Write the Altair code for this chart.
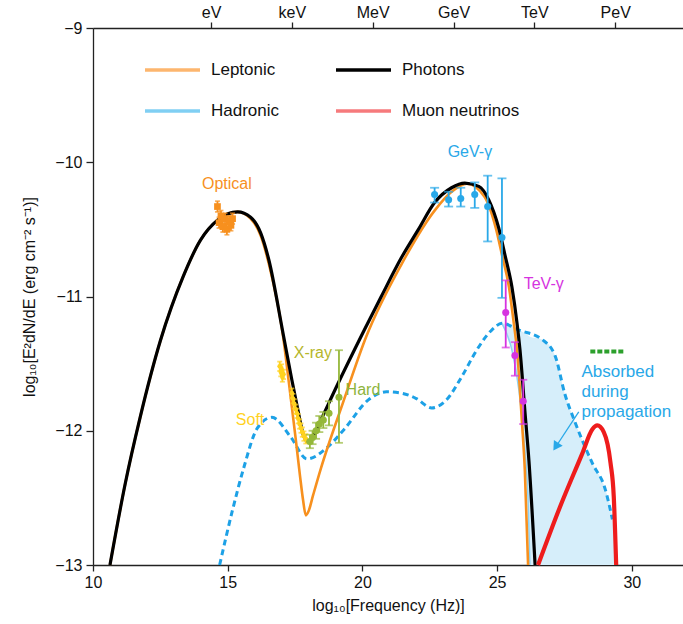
import altair as alt
import pandas as pd

FONT = "Liberation Sans"

# ---- model spectra: log10 frequency (Hz) vs log10 E^2 dN/dE (erg cm^-2 s^-1) ----
photon_x = [10.63, 11.19, 11.75, 12.50, 13.35, 13.99, 14.63, 15.37,
            15.85, 16.23, 16.53, 17.05, 17.38, 17.61, 17.79, 17.96,
            18.17, 18.46, 19.02, 20.07, 20.70, 21.45, 22.08, 22.68,
            23.31, 23.80, 24.32, 24.69, 25.06, 25.29, 25.55, 25.74,
            25.85, 26.03, 26.18, 26.41]
photon_y = [-13.0, -12.40, -11.90, -11.33, -10.85, -10.58, -10.43, -10.37,
            -10.41, -10.53, -10.73, -11.27, -11.62, -11.85, -12.02, -12.08,
            -12.04, -11.92, -11.68, -11.25, -11.00, -10.71, -10.50, -10.30,
            -10.19, -10.155, -10.18, -10.28, -10.49, -10.69, -10.93, -11.20,
            -11.40, -11.85, -12.22, -13.0]

lep_x = [10.63, 11.19, 11.75, 12.50, 13.35, 13.99, 14.63, 15.37,
         15.85, 16.23, 16.53, 17.05, 17.27, 17.53, 17.68, 17.80,
         17.90, 18.00, 18.17, 18.46, 19.28, 20.14, 21.45, 22.68,
         23.31, 23.88, 24.54, 24.95, 25.18, 25.44, 25.62, 25.74,
         25.92, 26.03, 26.15]
lep_y = [-13.0, -12.40, -11.90, -11.33, -10.85, -10.58, -10.43, -10.37,
         -10.42, -10.55, -10.76, -11.29, -11.64, -12.07, -12.33, -12.52,
         -12.63, -12.60, -12.48, -12.28, -11.79, -11.30, -10.76, -10.36,
         -10.22, -10.16, -10.26, -10.49, -10.69, -10.93, -11.20, -11.40,
         -11.93, -12.30, -13.0]

had_x = [14.70, 15.18, 15.59, 16.10, 16.64, 17.35, 17.94, 18.72, 19.32,
         20.22, 20.89, 21.45, 22.00, 22.57, 23.12, 23.68, 24.24, 24.80,
         25.18, 25.81, 26.67, 27.15, 27.52, 27.90, 28.53, 29.02, 29.28]
had_y = [-13.0, -12.59, -12.28, -11.98, -11.90, -12.05, -12.21, -12.12, -11.99,
         -11.77, -11.71, -11.72, -11.76, -11.83, -11.77, -11.60, -11.40, -11.25,
         -11.20, -11.25, -11.32, -11.44, -11.73, -11.94, -12.24, -12.44, -12.66]

nu_x = [26.52, 27.33, 28.16, 28.53, 28.72, 28.96, 29.21, 29.33, 29.42]
nu_y = [-13.0, -12.57, -12.17, -11.99, -11.96, -12.01, -12.24, -12.49, -13.0]

# hadronic emission lost on the way (shaded band)
abs_x = [25.18, 25.55, 25.81, 26.00, 26.15, 26.22, 26.67, 27.15, 27.52,
         27.90, 28.53, 29.02, 29.28, 29.40]
abs_top = [-11.20, -11.22, -11.25, -11.27, -11.29, -11.30, -11.32, -11.44, -11.73,
           -11.94, -12.24, -12.44, -12.66, -13.0]
abs_bottom = [-11.20, -11.40, -11.70, -12.07, -12.52, -13.0, -13.0, -13.0, -13.0,
              -13.0, -13.0, -13.0, -13.0, -13.0]

# neutrino limit segment
lim_x = [28.46, 29.73]
lim_y = [-11.41, -11.41]

# ---- observations ----
opt_x = [14.62, 14.68, 14.75, 14.82, 14.90, 14.97, 15.05, 15.12, 15.18]
opt_y = [-10.33, -10.45, -10.40, -10.48, -10.42, -10.50, -10.44, -10.47, -10.42]

soft_x = [16.93, 16.97, 17.00, 17.03, 17.07, 17.38, 17.42, 17.47, 17.52,
          17.57, 17.62, 17.67, 17.72, 17.77, 17.83, 17.90]
soft_y = [-11.52, -11.56, -11.54, -11.60, -11.58, -11.72, -11.76, -11.80, -11.84,
          -11.87, -11.91, -11.95, -11.98, -12.01, -12.04, -12.06]

hard_x = [18.05, 18.15, 18.28, 18.40, 18.55, 18.76, 19.13]
hard_y = [-12.08, -12.05, -12.00, -11.95, -11.92, -11.87, -11.75]
hard_lo = [-12.13, -12.10, -12.06, -12.01, -11.98, -11.96, -12.09]
hard_hi = [-12.03, -12.00, -11.94, -11.89, -11.86, -11.78, -11.40]

gev_x = [22.68, 23.20, 23.65, 24.17, 24.65, 25.18]
gev_y = [-10.24, -10.28, -10.27, -10.24, -10.33, -10.56]
gev_lo = [-10.30, -10.33, -10.33, -10.34, -10.59, -11.01]
gev_hi = [-10.19, -10.22, -10.19, -10.15, -10.10, -10.12]

tev_x = [25.32, 25.66, 25.97]
tev_y = [-11.12, -11.44, -11.78]
tev_lo = [-11.38, -11.59, -11.95]
tev_hi = [-10.88, -11.34, -11.62]

# ---- annotations ----
note_text = ["Optical", "Soft", "X-ray", "Hard", "GeV-\u03b3", "TeV-\u03b3"]
note_x = [14.97, 15.83, 18.16, 20.02, 23.99, 26.73]
note_y = [-10.16, -11.92, -11.42, -11.70, -9.92, -10.91]
note_color = ["#f7901e", "#ffd21f", "#b5b62a", "#8db43c", "#29a8e8", "#d633e0"]

absorb_text = ["Absorbed", "during", "propagation"]
absorb_x = [28.13, 28.13, 28.13]
absorb_y = [-11.56, -11.71, -11.86]

arrow_x = [28.03, 27.21]
arrow_y = [-11.86, -12.11]

# energy scale along the top
top_ticks = [14.383, 17.383, 20.383, 23.383, 26.383, 29.383]
top_labels = ["eV", "keV", "MeV", "GeV", "TeV", "PeV"]

# legend laid out column by column
legend_names = ["Leptonic", "Hadronic", "Photons", "Muon neutrinos"]
legend_colors = ["#fdb66e", "#80cff3", "#000000", "#f67a7c"]

# ---- scales and axes ----
xscale = alt.Scale(domain=[10, 31.9], nice=False, zero=False)
yscale = alt.Scale(domain=[-13, -9], nice=False, zero=False)

axis_style = dict(grid=False, domainColor="#222", tickColor="#222", labelColor="#111",
                  titleColor="#111", labelFont=FONT, titleFont=FONT, labelFontSize=16,
                  titleFontSize=16, titleFontWeight="normal", domainWidth=1.3, tickWidth=1.3)

x_bottom = alt.Axis(orient="bottom", values=[10, 15, 20, 25, 30], format="d",
                    title="log\u2081\u2080[Frequency (Hz)]", tickSize=6, labelPadding=3,
                    titlePadding=7, labelFlush=False, **axis_style)
top_expr = "[" + ",".join("'%s'" % s for s in top_labels) + "][round((datum.value - %s) / 3)]" % top_ticks[0]
x_top = alt.Axis(orient="top", values=top_ticks, labelExpr=top_expr, title=None,
                 tickSize=6, labelPadding=2, labelFlush=False, **axis_style)
y_left = alt.Axis(orient="left", values=[-13, -12, -11, -10, -9],
                  labelExpr="replace(format(datum.value, 'd'), '-', '\u2212')",
                  title="log\u2081\u2080[E\u00b2dN/dE (erg cm\u207b\u00b2 s\u207b\u00b9)]",
                  tickSize=7, labelPadding=4, titlePadding=17, **axis_style)


def X(field="x", axis=None):
    return alt.X(f"{field}:Q", scale=xscale, axis=axis)


def Y(field="y", axis=None):
    return alt.Y(f"{field}:Q", scale=yscale, axis=axis)


def frame(xs, ys):
    return pd.DataFrame({"x": xs, "y": ys})


# shaded absorbed band
band_df = pd.DataFrame({"x": abs_x, "top": abs_top, "bottom": abs_bottom})
band = alt.Chart(band_df).mark_area(color="#d6eefa", interpolate="monotone").encode(
    x=X(), y=Y("top"), y2="bottom:Q")
band_edge = alt.Chart(band_df[band_df["x"] <= 26.22]).mark_line(
    color="#8fd2f3", strokeWidth=1.5, interpolate="monotone").encode(x=X(), y=Y("bottom"))

hadronic = alt.Chart(frame(had_x, had_y)).mark_line(
    color="#1da1e6", strokeWidth=3, strokeDash=[6, 4], interpolate="monotone").encode(x=X(), y=Y())
leptonic = alt.Chart(frame(lep_x, lep_y)).mark_line(
    color="#f7901e", strokeWidth=2.6, interpolate="monotone").encode(x=X(), y=Y())
photons = alt.Chart(frame(photon_x, photon_y)).mark_line(
    color="#000000", strokeWidth=3.2, interpolate="monotone").encode(
    x=X(axis=x_bottom), y=Y(axis=y_left))
neutrinos = alt.Chart(frame(nu_x, nu_y)).mark_line(
    color="#ee1c1c", strokeWidth=4.2, interpolate="monotone").encode(x=X(), y=Y())
limit = alt.Chart(frame(lim_x, lim_y)).mark_line(
    color="#2ca02c", strokeWidth=4, strokeDash=[5, 2]).encode(x=X(axis=x_top), y=Y())


def errbars(xs, ys, lo, hi, color, cap=8, size=45, shape="circle"):
    df = pd.DataFrame({"x": xs, "y": ys, "lo": lo, "hi": hi})
    base = alt.Chart(df)
    bars = base.mark_rule(color=color, strokeWidth=1.8).encode(x=X(), y=Y("lo"), y2="hi:Q")
    caps_lo = base.mark_tick(color=color, orient="horizontal", size=cap, thickness=1.8).encode(
        x=X(), y=Y("lo"))
    caps_hi = base.mark_tick(color=color, orient="horizontal", size=cap, thickness=1.8).encode(
        x=X(), y=Y("hi"))
    pts = base.mark_point(color=color, filled=True, opacity=1, size=size, shape=shape).encode(
        x=X(), y=Y())
    return [bars, caps_lo, caps_hi, pts]


optical = errbars(opt_x, opt_y, [v - 0.04 for v in opt_y], [v + 0.04 for v in opt_y],
                  "#f7901e", cap=5, size=45, shape="square")
soft = errbars(soft_x, soft_y, [v - 0.035 for v in soft_y], [v + 0.035 for v in soft_y],
               "#ffd21f", cap=5, size=22)
hard = errbars(hard_x, hard_y, hard_lo, hard_hi, "#95b83a", cap=8, size=50)
gev = errbars(gev_x, gev_y, gev_lo, gev_hi, "#29a8e8", cap=9, size=50)
tev = errbars(tev_x, tev_y, tev_lo, tev_hi, "#d633e0", cap=8, size=50)

notes_df = pd.DataFrame({"text": note_text, "x": note_x, "y": note_y, "color": note_color})
notes = alt.Chart(notes_df).mark_text(fontSize=16, font=FONT, align="center", baseline="middle").encode(
    x=X(), y=Y(), text="text:N", color=alt.Color("color:N", scale=None))
absorb = alt.Chart(pd.DataFrame({"text": absorb_text, "x": absorb_x, "y": absorb_y})).mark_text(
    fontSize=17, font=FONT, align="left", baseline="middle", color="#29a8e8").encode(
    x=X(), y=Y(), text="text:N")

arrow_line = alt.Chart(frame(arrow_x, arrow_y)).mark_line(color="#29a8e8", strokeWidth=1.3).encode(
    x=X(), y=Y())
arrow_head = alt.Chart(frame(arrow_x[1:], arrow_y[1:])).mark_point(
    shape="triangle", filled=True, color="#29a8e8", opacity=1, size=110, angle=213).encode(x=X(), y=Y())

# legend entries (colour scale only, no marks drawn)
curves = pd.concat([
    pd.DataFrame({"series": "Leptonic", "x": lep_x, "y": lep_y}),
    pd.DataFrame({"series": "Photons", "x": photon_x, "y": photon_y}),
    pd.DataFrame({"series": "Hadronic", "x": had_x, "y": had_y}),
    pd.DataFrame({"series": "Muon neutrinos", "x": nu_x, "y": nu_y}),
])
legend_layer = alt.Chart(curves).transform_filter("false").mark_line().encode(
    x=X(), y=Y(),
    color=alt.Color("series:N", scale=alt.Scale(domain=legend_names, range=legend_colors),
                    legend=alt.Legend(orient="none", legendX=50, legendY=32, columns=2, title=None,
                                      symbolType="stroke", symbolSize=3025, symbolStrokeWidth=3.5,
                                      labelFontSize=17, labelFont=FONT, labelColor="#111",
                                      labelOffset=9, columnPadding=54, rowPadding=21,
                                      clipHeight=20)))

layers = [band, band_edge, hadronic, leptonic, photons, neutrinos, limit]
layers += optical + soft + hard + gev + tev
layers += [notes, absorb, arrow_line, arrow_head, legend_layer]

chart = alt.layer(*layers).resolve_axis(x="independent", y="independent").properties(
    width=590, height=537, autosize="none",
    padding={"left": 93, "top": 28, "right": 0, "bottom": 59},
    background="white",
).configure_view(stroke=None).configure(font=FONT)

chart.save("out.html", embed_options={"renderer": "svg", "actions": False})
